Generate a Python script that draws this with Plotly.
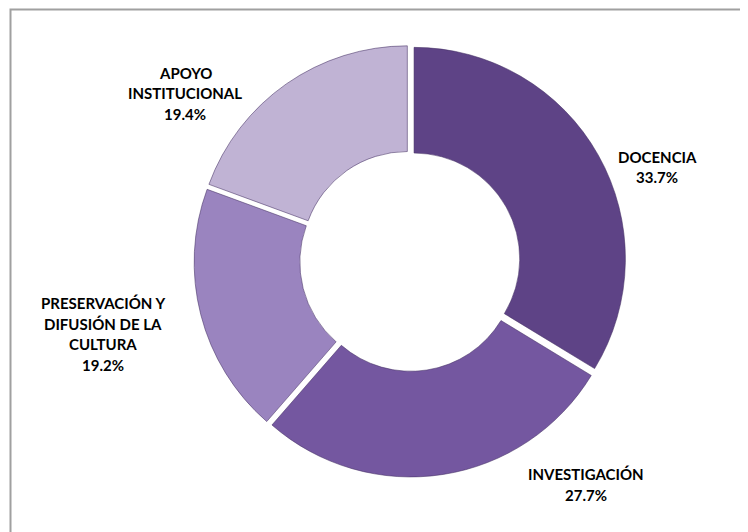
import plotly.graph_objects as go

W, H = 748, 532
OFF = 8  # browser default body margin

categories = ["DOCENCIA", "INVESTIGACIÓN", "PRESERVACIÓN Y DIFUSIÓN DE LA CULTURA", "APOYO INSTITUCIONAL"]
label_lines = [["DOCENCIA"], ["INVESTIGACIÓN"], ["PRESERVACIÓN Y", "DIFUSIÓN DE LA", "CULTURA"], ["APOYO", "INSTITUCIONAL"]]
values = [33.7, 27.7, 19.2, 19.4]
colors = ["#5e4386", "#7457a0", "#9a84bf", "#c0b3d4"]
# label anchor (pixel centre of first line, as seen in page)
label_pos = [(657, 157), (586, 474), (103, 303), (185, 73)]

cx, cy, R = 410 - OFF, 261 - OFF, 216
fig = go.Figure(go.Pie(
    labels=categories, values=values, sort=False, direction="clockwise", rotation=0,
    hole=0.5, pull=[0.022] * 4,
    marker=dict(colors=colors, line=dict(color="rgba(70,50,100,0.55)", width=1)),
    textinfo="none", hoverinfo="label+percent", showlegend=False,
    domain=dict(x=[(cx - R) / W, (cx + R) / W], y=[1 - (cy + R) / H, 1 - (cy - R) / H]),
))

line_gap = 20.5
anns = []
for lines, v, (lx, ly) in zip(label_lines, values, label_pos):
    for i, t in enumerate(lines + [f"{v:.1f}%"]):
        anns.append(dict(x=(lx - OFF) / W, y=1 - (ly - OFF + i * line_gap) / H, xref="paper", yref="paper",
                         text=t, showarrow=False, xanchor="center", yanchor="middle",
                         font=dict(family="Lato", size=15, color="#000000", weight="bold")))

fig.update_layout(
    width=W, height=H, margin=dict(l=0, r=0, t=0, b=0),
    paper_bgcolor="white", plot_bgcolor="white",
    annotations=anns,
    font=dict(family="Lato"),
    shapes=[dict(type="rect", xref="paper", yref="paper",
                 x0=(10.5 - OFF) / W, x1=1.05, y0=-0.05, y1=1 - (9.5 - OFF) / H,
                 line=dict(color="#a0a0a0", width=2), fillcolor="rgba(0,0,0,0)")],
)

fig.write_html("out.html")
